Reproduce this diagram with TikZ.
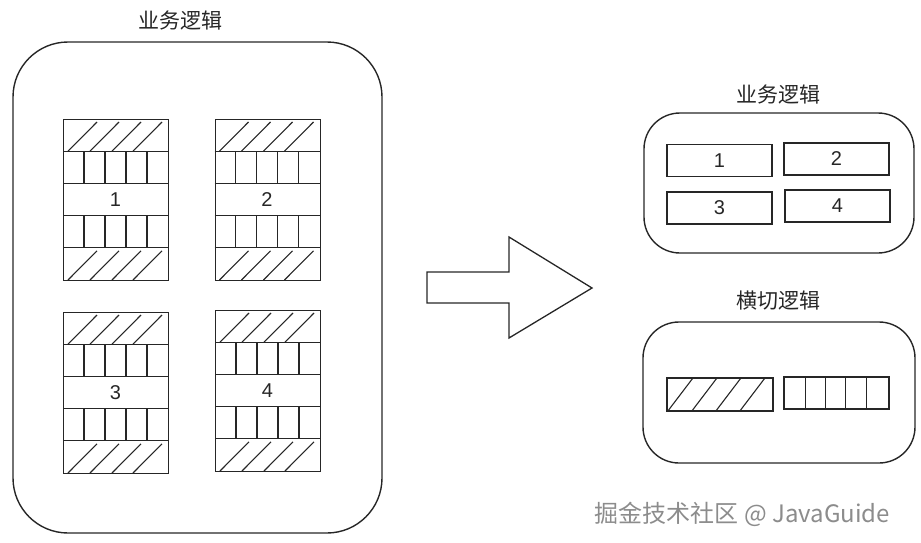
\documentclass[tikz,border=0pt]{standalone}
\usepackage{fontspec}
\setmainfont{Liberation Sans}
\newfontfamily\cjkfont{Noto Sans CJK SC}
\usepackage{tikz}
\usetikzlibrary{positioning,calc}

\tikzset{
  frame/.style={rectangle, draw=black!85, line width=1.4pt, inner sep=0pt},
  block/.style={rectangle, draw=black!85, line width=1.3pt, minimum width=105pt, minimum height=161pt, inner sep=0pt},
  slot/.style={rectangle, draw=black!85, line width=1.2pt, minimum width=105pt, minimum height=32pt, inner sep=0pt},
  cell/.style={draw=black!85, line width=1.1pt},
  hatch/.style={draw=black!85, line width=1.1pt},
  num/.style={font=\fontsize{20}{22}\selectfont, text=black!85, inner sep=0pt},
  title/.style={font=\cjkfont\fontsize{21}{24}\selectfont, text=black!85, inner sep=0pt},
  shiftarrow/.style={draw=black!85, line width=1.3pt, line join=miter}
}

% one module of business logic with its cross-cutting rows
\newcommand{\logicblock}[4]{%
  \begin{scope}[shift={(#2,#3)}]
    \node[block, anchor=north west] (#1) at (0,0) {};
    \foreach \r in {1,...,4}
      \draw[cell] (0,\r*32.2) -- (105,\r*32.2);
    \foreach \c in {21,42,63,84} {
      \draw[cell] (\c,32.2) -- (\c,64.4);
      \draw[cell] (\c,96.6) -- (\c,128.8);
    }
    \foreach \h in {0,22,44,65} {
      \draw[hatch] (\h+5,32.2) -- (\h+34,3);
      \draw[hatch] (\h+5,161) -- (\h+34,131.8);
    }
    \node[num] (#1-lbl) at (52.5,80.5) {#4};
  \end{scope}}

\begin{document}
\begin{tikzpicture}[x=1pt, y=-1pt]
\useasboundingbox (0,0) rectangle (921,543);

% left: mixed logic
\node[frame, rounded corners=55pt, minimum width=369pt, minimum height=491pt] (mixed) at (197.5,287.5) {};
\node[title] (mixedtitle) at (180,21) {业务逻辑};

\logicblock{m1}{63}{119}{1}
\logicblock{m2}{214.5}{119}{2}
\logicblock{m3}{63}{312}{3}
\logicblock{m4}{215}{310}{4}

% split arrow
\draw[shiftarrow] (427,272) -- (509,272) -- (509,237) -- (592,288)
  -- (509,338) -- (509,303) -- (427,303) -- cycle;

% right top: business logic only
\node[frame, rounded corners=36pt, minimum width=270pt, minimum height=140pt] (business) at (779,183) {};
\node[title] (businesstitle) at (778,95) {业务逻辑};
\node[slot] (b1) at (719.5,160.5) {};
\node[slot] (b2) at (836.5,159) {};
\node[slot] (b3) at (719.5,208) {};
\node[slot] (b4) at (837.5,206) {};
\node[num] at (b1) {1};
\node[num] at (b2) {2};
\node[num] at (b3) {3};
\node[num] at (b4) {4};

% right bottom: cross-cutting logic
\node[frame, rounded corners=36pt, minimum width=272pt, minimum height=141pt] (cross) at (779,392.5) {};
\node[title] (crosstitle) at (778,301) {横切逻辑};
\node[slot, minimum width=106pt, minimum height=33pt] (hs) at (720,394.5) {};
\node[slot] (vs) at (836.5,393) {};
\foreach \h in {1,25,49,73}
  \draw[hatch] ($(hs.south west)+(\h,0)$) -- ($(hs.north west)+(\h+26,0)$);
\foreach \c in {22,42,62,83}
  \draw[cell] ($(vs.south west)+(\c,0)$) -- ($(vs.north west)+(\c,0)$);

% watermark
\node[font=\cjkfont\fontsize{24}{27}\selectfont, text=black!45, inner sep=0pt] (mark) at (742.5,514) {掘金技术社区 @ JavaGuide};

\end{tikzpicture}
\end{document}
